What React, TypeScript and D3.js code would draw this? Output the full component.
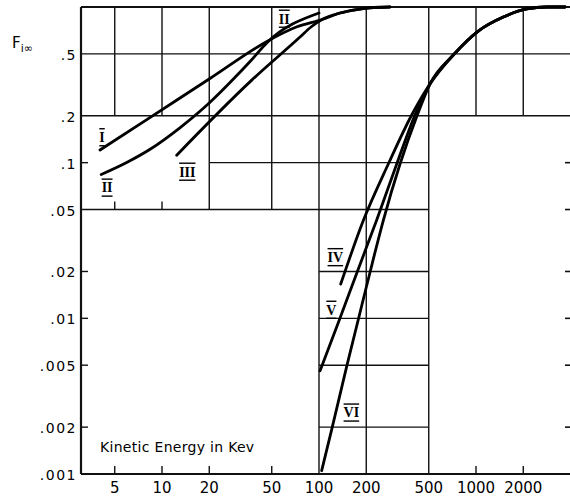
import React from 'react';
import * as d3 from 'd3';

// ---- tick values / labels ----
const xTickValues = [5, 10, 20, 50, 100, 200, 500, 1000, 2000];
const xTickLabels = ['5', '10', '20', '50', '100', '200', '500', '1000', '2000'];
const yTickValues = [0.001, 0.002, 0.005, 0.01, 0.02, 0.05, 0.1, 0.2, 0.5];
const yTickLabels = ['.001', '.002', '.005', '.01', '.02', '.05', '.1', '.2', '.5'];

// ---- curves: kinetic energy (keV) vs F_i∞ ----
const energyI = [4.03, 8.14, 20.2, 46.6, 72.4, 104.5, 136.1, 169.6, 211.3, 283];
const fracI = [0.1206, 0.1913, 0.3472, 0.601, 0.746, 0.831, 0.915, 0.959, 0.988, 1.0];

const energyII = [4.1, 6, 8.4, 13, 20.3, 28.5, 36.5, 46.6, 100];
const fracII = [0.084, 0.1007, 0.122, 0.1675, 0.2453, 0.3446, 0.4484, 0.59, 0.915];

const energyIII = [12.4, 37.3, 75.7, 88.9, 104.5, 136.1, 169.6, 211.3, 283];
const fracIII = [0.1117, 0.339, 0.641, 0.744, 0.831, 0.915, 0.959, 0.988, 1.0];

const energyIV = [137.5, 192.1, 276.3, 389.5, 510, 717, 1034, 1493, 2103, 2820, 3690];
const fracIV = [0.0166, 0.0428, 0.098, 0.2024, 0.321, 0.4916, 0.701, 0.8626, 0.971, 1.0, 1.0];

const energyV = [101.5, 134.7, 173.9, 233.1, 312.6, 408.8, 510, 717, 1034, 1493, 2103, 2820, 3690];
const fracV = [0.0046, 0.00976, 0.0195, 0.0428, 0.098, 0.2024, 0.321, 0.4916, 0.701, 0.8626, 0.971, 1.0, 1.0];

const energyVI = [104, 121.5, 150.8, 178.7, 211.9, 257.2, 328.1, 422.8, 510, 717, 1034, 1493, 2103, 2820, 3690];
const fracVI = [0.00105, 0.002, 0.005, 0.01, 0.02, 0.0428, 0.098, 0.2024, 0.321, 0.4916, 0.701, 0.8626, 0.971, 1.0, 1.0];

const curveNames = ['I', 'II', 'III', 'IV', 'V', 'VI'];
const curveEnergies = [energyI, energyII, energyIII, energyIV, energyV, energyVI];
const curveFracs = [fracI, fracII, fracIII, fracIV, fracV, fracVI];

// curve labels, anchored in data space
const labelTexts = ['I', 'II', 'III', 'II', 'IV', 'V', 'VI'];
const labelEnergies = [4.15, 4.47, 14.5, 60.1, 127.1, 119.9, 160.8];
const labelFracs = [0.145, 0.0688, 0.0871, 0.837, 0.0246, 0.0113, 0.00247];

// grid structure (data space)
const hGridF = [0.5, 0.2, 0.1, 0.05, 0.02, 0.01, 0.005, 0.002];
const hGridFrom = [0, 0, 20, 0, 100, 100, 100, 100]; // 0 => left axis
const hGridTo = [Infinity, Infinity, 500, 500, 500, 500, 500, 500]; // Infinity => right edge
const vGridE = [5, 10, 20, 50, 100, 200, 500, 1000, 2000];
const vGridFrom = [0.2, 0.2, 0.05, 0.05, 0.001, 0.001, 0.001, 0.2, 0.2];

const leftTicks = [0.1, 0.02, 0.01, 0.005, 0.002];
const bottomTicks = [5, 10, 20, 50, 1000, 2000];
const midTicks = [5, 10];
const rightTicks = [0.1, 0.05, 0.02, 0.01, 0.005, 0.002];

const W = 570;
const H = 500;

export default function App() {
  const x = d3.scaleLog().domain([10, 1000]).range([162, 476]);
  const y = d3.scaleLog().domain([0.001, 1]).range([474, 7]);
  const left = 81;
  const right = 570;
  const bottom = y(0.001);
  const top = y(1);

  const line = d3
    .line<[number, number]>()
    .x((d) => x(d[0]))
    .y((d) => y(d[1]))
    .curve(d3.curveMonotoneX);

  const ink = '#111';
  const labelFont = '"DejaVu Sans", "Liberation Sans", sans-serif';

  return (
    <svg
      width={W}
      height={H}
      viewBox={`0 0 ${W} ${H}`}
      style={{ position: 'absolute', left: 0, top: 0, background: '#fff' }}
    >
      <rect x={0} y={0} width={W} height={H} fill="#fff" />
      {/* horizontal grid */}
      {hGridF.map((f, i) => (
        <line
          key={'h' + i}
          x1={hGridFrom[i] === 0 ? left : x(hGridFrom[i])}
          x2={hGridTo[i] === Infinity ? right : x(hGridTo[i])}
          y1={y(f)}
          y2={y(f)}
          stroke={ink}
          strokeWidth={1.4}
        />
      ))}
      {/* vertical grid */}
      {vGridE.map((e, i) => (
        <line
          key={'v' + i}
          x1={x(e)}
          x2={x(e)}
          y1={y(vGridFrom[i])}
          y2={top}
          stroke={ink}
          strokeWidth={1.4}
        />
      ))}
      {/* ticks */}
      {leftTicks.map((f, i) => (
        <line key={'lt' + i} x1={left} x2={left + 7} y1={y(f)} y2={y(f)} stroke={ink} strokeWidth={1.4} />
      ))}
      {rightTicks.map((f, i) => (
        <line key={'rt' + i} x1={right - 5} x2={right} y1={y(f)} y2={y(f)} stroke={ink} strokeWidth={1.6} />
      ))}
      {bottomTicks.map((e, i) => (
        <line key={'bt' + i} x1={x(e)} x2={x(e)} y1={bottom} y2={bottom - 8} stroke={ink} strokeWidth={1.4} />
      ))}
      {midTicks.map((e, i) => (
        <line key={'mt' + i} x1={x(e)} x2={x(e)} y1={y(0.05)} y2={y(0.05) - 8} stroke={ink} strokeWidth={1.4} />
      ))}
      {/* frame */}
      <line x1={left} x2={right} y1={top} y2={top} stroke={ink} strokeWidth={2.2} />
      <line x1={left} x2={right} y1={bottom} y2={bottom} stroke={ink} strokeWidth={2.2} />
      <line x1={left} x2={left} y1={top} y2={bottom} stroke={ink} strokeWidth={2.2} />

      {/* curves */}
      {curveNames.map((name, i) => {
        const pts = curveEnergies[i].map((e, j) => [e, curveFracs[i][j]] as [number, number]);
        return (
          <path
            key={'c' + name}
            d={line(pts) || ''}
            fill="none"
            stroke="#000"
            strokeWidth={2.8}
            strokeLinecap="round"
          />
        );
      })}

      {/* curve labels */}
      {labelTexts.map((t, i) => (
        <text
          key={'lab' + i}
          x={x(labelEnergies[i])}
          y={y(labelFracs[i])}
          textAnchor="middle"
          dominantBaseline="central"
          fontFamily='"Liberation Serif", "DejaVu Serif", serif'
          fontWeight="bold"
          fontSize={14}
          fill="#000"
          style={{ textDecoration: 'overline underline' }}
        >
          {t}
        </text>
      ))}

      {/* y tick labels */}
      {yTickValues.map((v, i) => (
        <text
          key={'yl' + i}
          x={77}
          y={y(v) + 1}
          textAnchor="end"
          dominantBaseline="central"
          fontFamily={labelFont}
          fontSize={14}
          letterSpacing={1.5}
          fill="#000"
        >
          {yTickLabels[i]}
        </text>
      ))}

      {/* x tick labels */}
      {xTickValues.map((v, i) => (
        <text
          key={'xl' + i}
          x={x(v)}
          y={493}
          textAnchor="middle"
          fontFamily={labelFont}
          fontSize={15}
          fill="#000"
        >
          {xTickLabels[i]}
        </text>
      ))}

      {/* axis titles */}
      <text x={12} y={48} fontFamily={labelFont} fontSize={15} fill="#000">
        F
        <tspan fontSize={11} dy={4}>i∞</tspan>
      </text>
      <text x={100} y={452} fontFamily={labelFont} fontSize={14} fill="#000" letterSpacing={0.3}>
        Kinetic Energy in Kev
      </text>
    </svg>
  );
}
